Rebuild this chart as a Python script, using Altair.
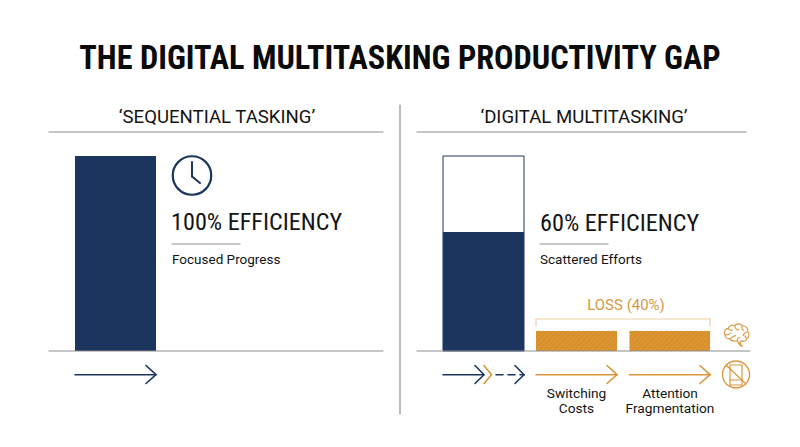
import altair as alt
import pandas as pd

NAVY = "#1B355E"
ORANGE = "#DB9430"
ORANGE_LN = "#D9963C"
GRAY = "#8E8E8E"
INK = "#141414"
NARROW = "Roboto Condensed"
ROBOTO = "Roboto"

# Bar values (percent of full efficiency) and horizontal extents
bar_names = ["Sequential", "Multitasking", "Switching Costs", "Attention Fragmentation"]
bar_values = [100, 61, 10.3, 10.3]
bar_starts = [75, 443, 536, 629.5]
bar_ends = [156, 524, 617, 710]
bar_colors = [NAVY, NAVY, ORANGE, ORANGE]
capacity_value = [100]

X = alt.Scale(domain=[8, 792], range=[0, 784])
Y = alt.Scale(domain=[0, 100], range=[343, 148])

bars = pd.DataFrame({"name": bar_names, "v": bar_values, "zero": [0] * 4,
                     "x0": bar_starts, "x1": bar_ends, "c": bar_colors})
outline = pd.DataFrame({"v": capacity_value, "zero": [0], "x0": [bar_starts[1]], "x1": [bar_ends[1]]})

layers = []


def v(p):
    return alt.value(p - 8)


def text(s, x, y, size, font=ROBOTO, color=INK, align="left", weight="normal"):
    layers.append(alt.Chart().mark_text(text=s, font=font, fontSize=size, color=color, align=align,
                                        baseline="alphabetic", fontWeight=weight).encode(x=v(x), y=v(y)))


def line(x1, y1, x2, y2, color=GRAY, w=1.0, dash=None):
    kw = {"strokeDash": dash} if dash else {}
    layers.append(alt.Chart().mark_rule(color=color, strokeWidth=w, strokeCap="round", **kw).encode(
        x=v(x1), y=v(y1), x2=v(x2), y2=v(y2)))


def chevron(tip, color, w=1.6, back=10):
    line(tip - back, 365.5, tip, 374.7, color, w)
    line(tip, 374.7, tip - back, 383.5, color, w)


# outlined capacity bar
layers.append(alt.Chart(outline).mark_rect(fill="white", stroke=NAVY, strokeWidth=1).encode(
    x=alt.X("x0:Q", scale=X, axis=None), x2="x1:Q",
    y=alt.Y("v:Q", scale=Y, axis=None), y2="zero:Q"))

# bars
layers.append(alt.Chart(bars).mark_rect().encode(
    x=alt.X("x0:Q", scale=X, axis=None), x2="x1:Q",
    y=alt.Y("v:Q", scale=Y, axis=None), y2="zero:Q",
    color=alt.Color("c:N", scale=None)))

# faint diagonal texture on the two loss bars
for b0, b1 in zip(bar_starts[2:], bar_ends[2:]):
    t = int(b0) - 18
    while t < b1:
        xa, ya = t, 351
        xb, yb = t + 20, 331
        if xa < b0:
            ya -= b0 - xa
            xa = b0
        if xb > b1:
            yb += xb - b1
            xb = b1
        line(xa, ya, xb, yb, "#C98524", 0.6)
        t += 5

# title and headers
text("THE DIGITAL MULTITASKING PRODUCTIVITY GAP", 400, 68.5, 32.3, NARROW, "#0B0B0B", "center", "bold")
text("‘SEQUENTIAL TASKING’", 217, 123, 18.6, ROBOTO, INK, "center")
text("‘DIGITAL MULTITASKING’", 584, 123, 18.6, ROBOTO, INK, "center")
line(49, 132, 383, 132, GRAY, 1.2)
line(417, 132, 746, 132, GRAY, 1.2)
line(400, 105, 400, 414, GRAY, 1.2)

# baselines
line(49, 351, 383, 351, GRAY, 1.2)
line(417, 351, 750, 351, GRAY, 1.2)

# left annotations
layers.append(alt.Chart().mark_point(shape="circle", size=1480, filled=False, stroke=NAVY, strokeWidth=2.2,
                                     opacity=1).encode(x=v(192), y=v(175.5)))
line(192, 162, 192, 176.5, NAVY, 2)
line(192, 176.5, 200, 183, NAVY, 2)
text("100% EFFICIENCY", 171, 230, 24.2, NARROW)
line(172, 244, 240, 244, GRAY, 1)
text("Focused Progress", 172, 264, 13.5)

line(75, 374.7, 155, 374.7, NAVY, 1.6)
chevron(156, NAVY)

# right annotations
text("60% EFFICIENCY", 540, 231, 24.2, NARROW)
line(540, 244, 608, 244, GRAY, 1)
text("Scattered Efforts", 540, 264, 13.5)

text("LOSS (40%)", 626, 310, 15, ROBOTO, "#D49A45", "center")
BR = "#E9CE9F"
line(536, 319, 710, 319, BR, 1.2)
line(536, 319, 536, 326, BR, 1.2)
line(710, 319, 710, 326, BR, 1.2)

line(443, 374.7, 483, 374.7, NAVY, 1.6)
chevron(484, NAVY, back=9)
chevron(491.5, ORANGE_LN, back=7.5)
line(496, 374.7, 524, 374.7, NAVY, 1.6, [7, 5])
chevron(524, NAVY, back=9)
line(536, 374.7, 617, 374.7, ORANGE_LN, 1.6)
chevron(617, ORANGE_LN)
line(629.5, 374.7, 710, 374.7, ORANGE_LN, 1.6)
chevron(710, ORANGE_LN)

text("Switching", 576.5, 397.5, 13.7, ROBOTO, INK, "center")
text("Costs", 576.5, 413, 13.7, ROBOTO, INK, "center")
text("Attention", 670, 397.5, 13.7, ROBOTO, INK, "center")
text("Fragmentation", 670, 413, 13.7, ROBOTO, INK, "center")

# brain icon
BRAIN = ("M-0.92,-0.02 C-1.05,-0.25 -0.88,-0.52 -0.65,-0.52 C-0.6,-0.75 -0.3,-0.85 -0.15,-0.72 "
         "C0,-0.95 0.35,-0.92 0.45,-0.72 C0.7,-0.78 0.97,-0.5 0.9,-0.25 C1.05,-0.1 1.0,0.22 0.8,0.3 "
         "C0.75,0.5 0.5,0.55 0.38,0.45 C0.35,0.55 0.28,0.6 0.22,0.55 L0.45,0.88 L0.27,0.82 L0.05,0.45 "
         "C-0.2,0.5 -0.45,0.45 -0.5,0.3 C-0.75,0.35 -0.88,0.18 -0.92,-0.02 Z "
         "M-0.65,-0.52 C-0.55,-0.35 -0.4,-0.35 -0.3,-0.42 M-0.15,-0.72 C-0.1,-0.5 0.05,-0.35 0.2,-0.42 "
         "M0.45,-0.72 C0.4,-0.55 0.45,-0.4 0.6,-0.35 M0.9,-0.25 C0.7,-0.2 0.55,-0.1 0.5,0.08 "
         "M-0.92,-0.02 C-0.7,0.02 -0.55,-0.05 -0.45,-0.18 M-0.5,0.3 C-0.35,0.2 -0.25,0.05 -0.05,0.05 "
         "M0.05,0.45 C0.05,0.3 0.15,0.2 0.3,0.18 M0.8,0.3 C0.7,0.2 0.65,0.12 0.68,0.02")
layers.append(alt.Chart().mark_point(shape=BRAIN, size=640, filled=False, stroke=ORANGE_LN, strokeWidth=1.1,
                                     opacity=1).encode(x=v(736.5), y=v(335)))

# no-phone icon
layers.append(alt.Chart().mark_point(shape="circle", size=730, filled=False, stroke=ORANGE_LN, strokeWidth=1.3,
                                     opacity=1).encode(x=v(736), y=v(374.5)))
line(730, 365, 742, 365, ORANGE_LN, 1.2)
line(730, 385, 742, 385, ORANGE_LN, 1.2)
line(730, 365, 730, 385, ORANGE_LN, 1.2)
line(742, 365, 742, 385, ORANGE_LN, 1.2)
line(730, 380, 742, 380, ORANGE_LN, 1)
line(726, 365, 746, 384, ORANGE_LN, 1.2)

chart = alt.layer(*layers).properties(
    width=784, height=431, padding=0, autosize=alt.AutoSizeParams(type="none"), background="white"
).configure_view(stroke=None)

chart.save("out.html", embed_options={"renderer": "svg", "actions": False})
